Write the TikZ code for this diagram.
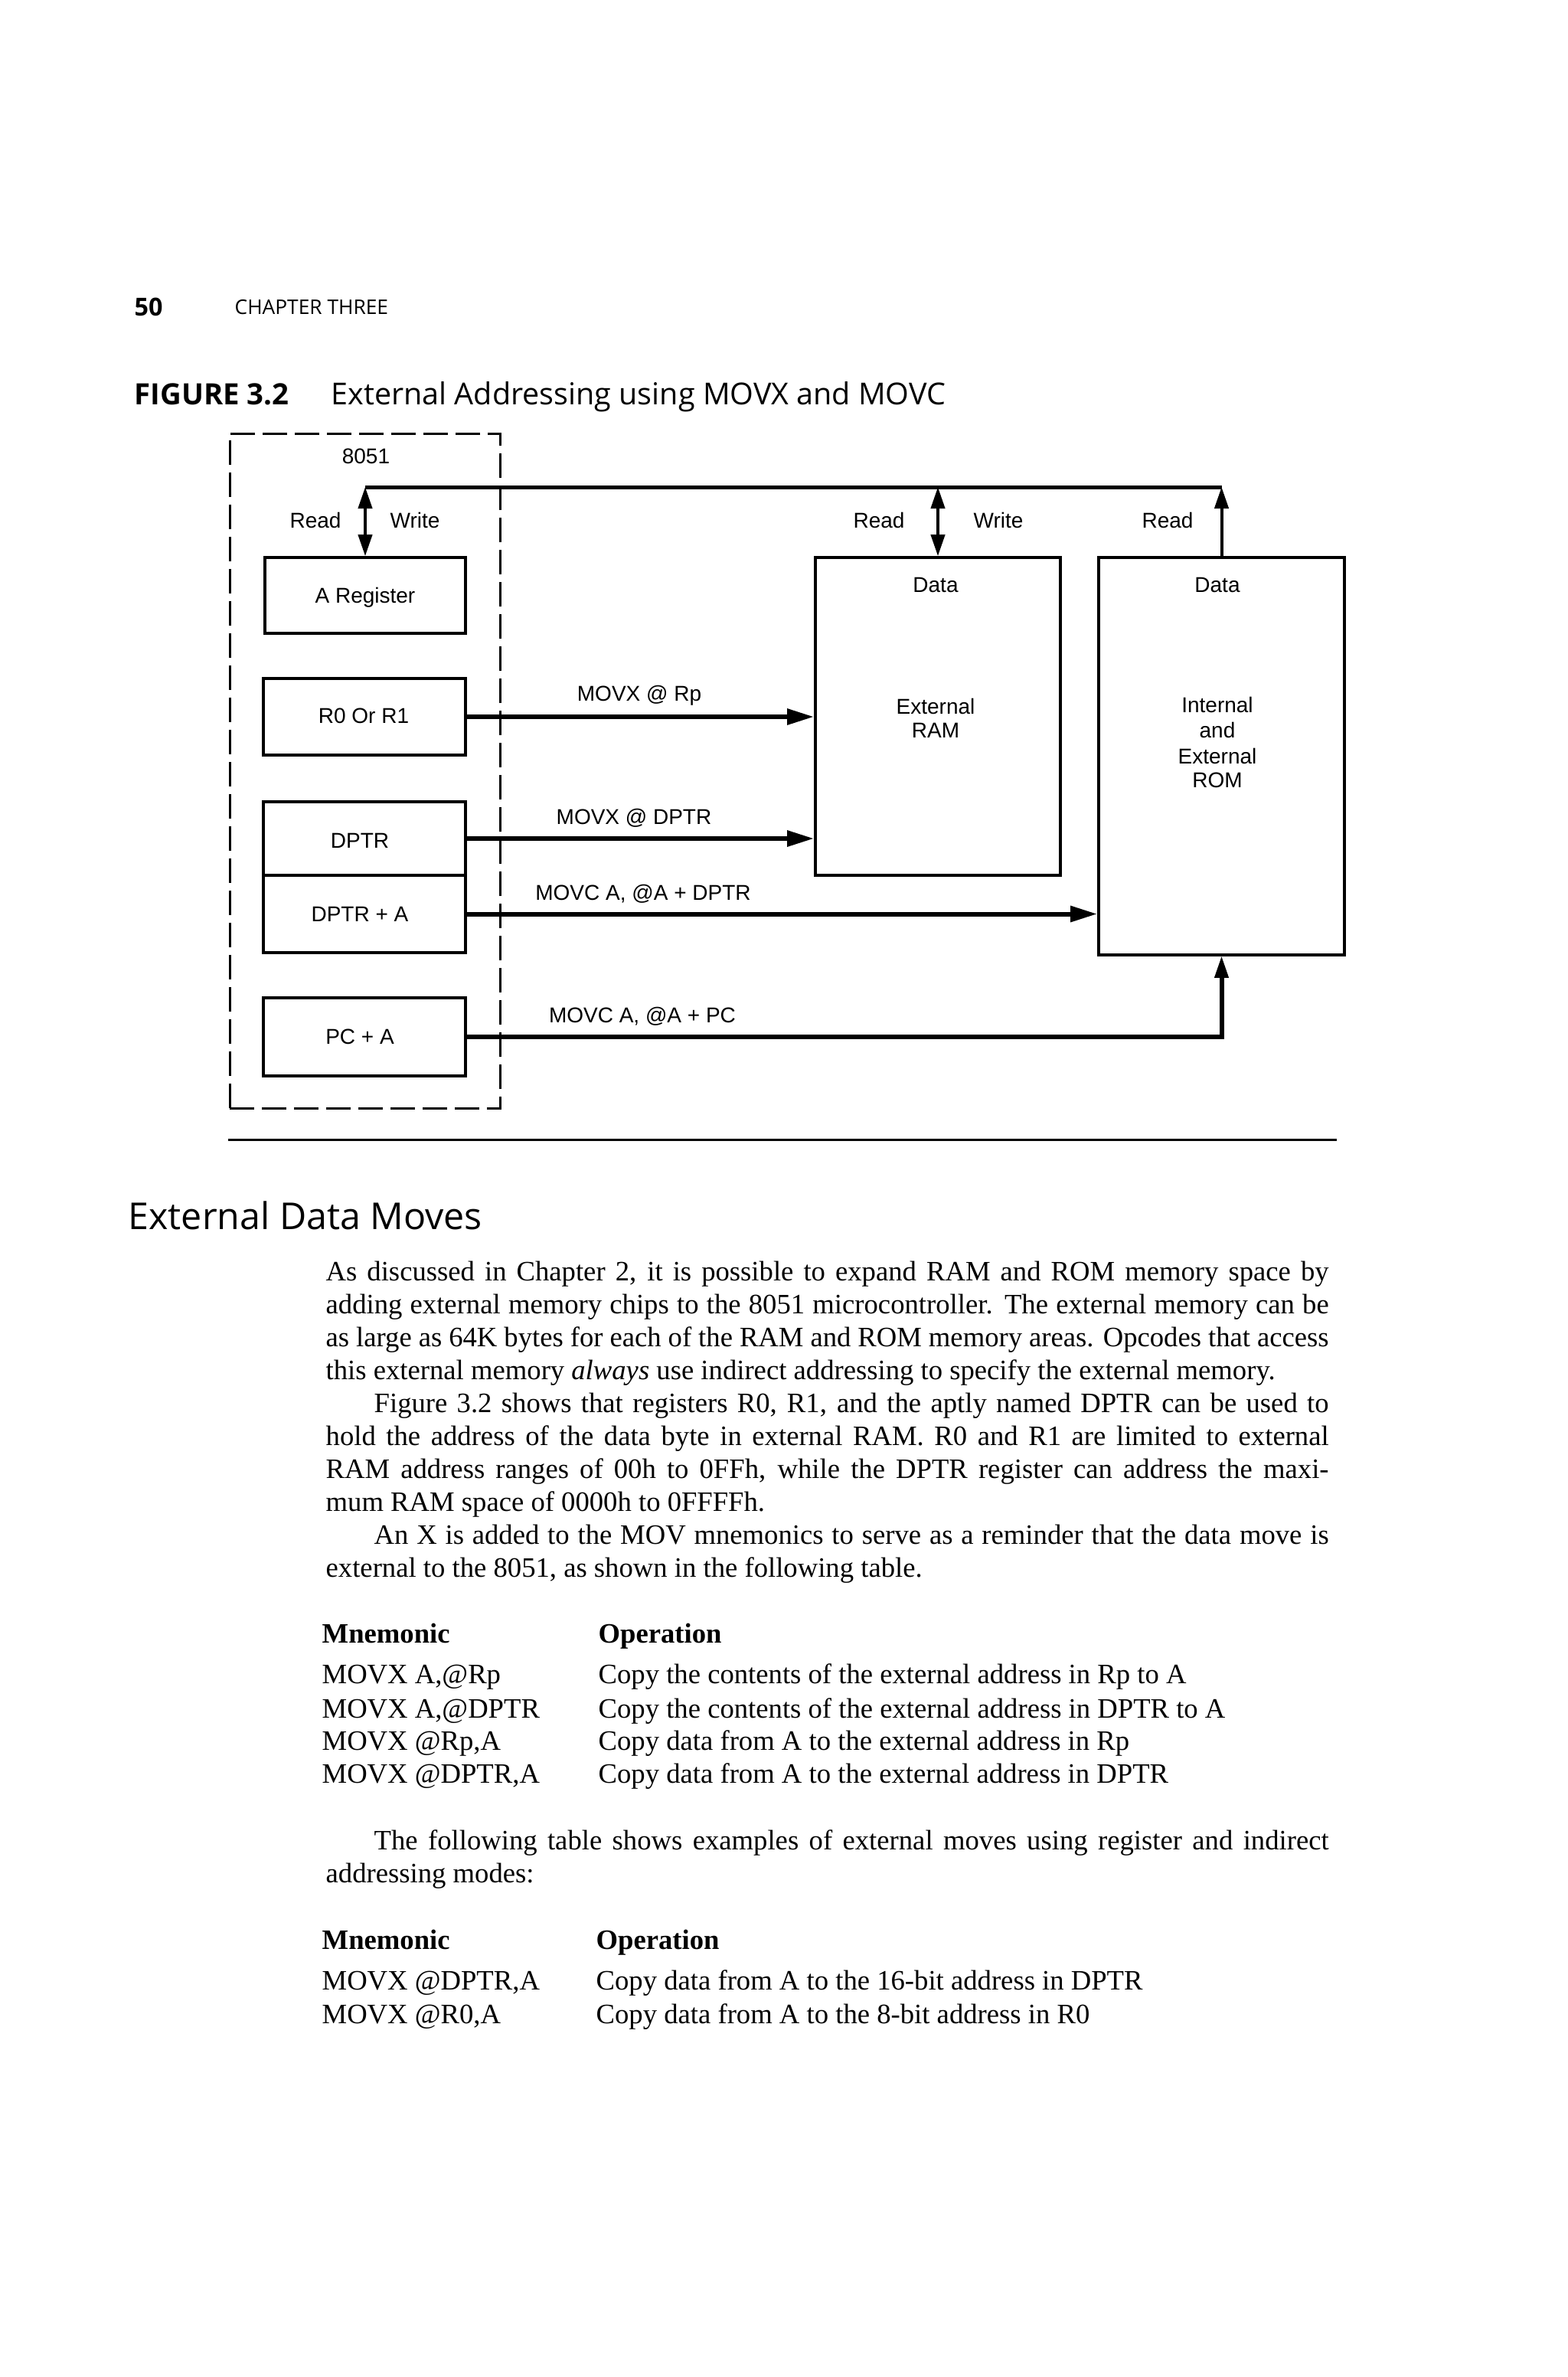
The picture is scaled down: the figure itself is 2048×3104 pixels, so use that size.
\documentclass[tikz,border=0pt]{standalone}
\usepackage{fontspec}
\setmainfont{Liberation Serif}
\newfontfamily\diafont{Liberation Sans}
\newfontfamily\headfont{Open Sans}
\usetikzlibrary{arrows.meta,fit}
\newcommand\bodysetup{\fontsize{11}{13}\selectfont\spaceskip=0.25em plus 0.6em minus 0.12em\relax}
\newcommand\jline[5]{\node[body] (#1) at (#2,#3) {\makebox[#4][s]{#5}};}
\newcommand\nline[4]{\node[body] (#1) at (#2,#3) {#4};}
\begin{document}
\begin{tikzpicture}[x=0.3pt,y=-0.3pt,
  regbox/.style={draw, line width=1.1pt, inner sep=0pt},
  chipbox/.style={draw, line width=0.9pt, inner sep=0pt, dash pattern=on 9.6pt off 3pt},
  dia/.style={font=\diafont\fontsize{8.4}{10}\selectfont, inner sep=0pt, anchor=base},
  conn/.style={line width=1.8pt, -{Triangle[length=10.5pt,width=6pt]}},
  rw/.style={line width=1.2pt, {Triangle[length=8.4pt,width=5.4pt]}-{Triangle[length=8.4pt,width=5.4pt]}},
  up/.style={line width=1.2pt, -{Triangle[length=8.4pt,width=5.4pt]}},
  bus/.style={line width=1.5pt},
  body/.style={font=\bodysetup, inner sep=0pt, anchor=base west},
  bodyb/.style={body, font=\bodysetup\bfseries},
  head/.style={inner sep=0pt, anchor=base west}
]
\fill[white] (0,0) rectangle (2048,3104);
\useasboundingbox (0,0) rectangle (2048,3104);

% page header
\node[head, font=\headfont\bfseries\fontsize{9.7}{11}\selectfont] (pnum) at (175,412) {50};
\node[head, font=\headfont\fontsize{7.9}{9}\selectfont] (chap) at (306,410) {CHAPTER THREE};
\node[head, font=\headfont\bfseries\fontsize{11.5}{13}\selectfont] (fignum) at (175,528) {FIGURE 3.2};
\node[head, font=\headfont\fontsize{11.85}{13}\selectfont] (figtitle) at (432,528) {External Addressing using MOVX and MOVC};

% diagram
\node[chipbox, fit={(300,566) (653,1447)}] (chip) {};
\node[dia] (t8051) at (478,605) {8051};

\node[regbox, fit={(346,728) (608,827)}] (areg) {};
\node[regbox, fit={(344,886) (608,986)}] (r0) {};
\node[regbox, fit={(344,1047) (608,1143)}] (dptr) {};
\node[regbox, fit={(344,1143) (608,1244)}] (dptra) {};
\node[regbox, fit={(344,1303) (608,1405)}] (pca) {};
\node[regbox, fit={(1065,728) (1385,1143)}] (ram) {};
\node[regbox, fit={(1435,728) (1756,1247)}] (rom) {};

\node[dia] (tareg) at (477,787) {A Register};
\node[dia] (tr0) at (475,944) {R0 Or R1};
\node[dia] (tdptr) at (470,1107) {DPTR};
\node[dia] (tdptra) at (470,1203) {DPTR + A};
\node[dia] (tpca) at (470,1363) {PC + A};

\node[dia] (tramdata) at (1222,773) {Data};
\node[dia] (tram1) at (1222,932) {External};
\node[dia] (tram2) at (1222,963) {RAM};
\node[dia] (tromdata) at (1590,773) {Data};
\node[dia] (trom1) at (1590,930) {Internal};
\node[dia] (trom2) at (1590,963) {and};
\node[dia] (trom3) at (1590,997) {External};
\node[dia] (trom4) at (1590,1028) {ROM};

\coordinate (busL) at (477,636);
\coordinate (busM) at (ram.north |- busL);
\coordinate (busR) at (rom.north |- busL);
\draw[rw] (areg.north) -- (busL);
\draw[rw] (ram.north) -- (busM);
\draw[up] (rom.north) -- (busR);
\draw[bus] (busL) -- (busR);

\node[dia] (rd1) at (412,689) {Read};
\node[dia] (wr1) at (542,689) {Write};
\node[dia] (rd2) at (1148,689) {Read};
\node[dia] (wr2) at (1304,689) {Write};
\node[dia] (rd3) at (1525,689) {Read};

\draw[conn] (r0.east) -- (r0.east -| ram.west);
\draw[conn] (dptr.east) -- (dptr.east -| ram.west);
\draw[conn] (dptra.east) -- (dptra.east -| rom.west);
\draw[line width=1.8pt] (pca.east) -| ([yshift=-7pt]rom.south);
\draw[up] ([yshift=-8pt]rom.south) -- (rom.south);

\node[dia] (m1) at (835,915) {MOVX @ Rp};
\node[dia] (m2) at (828,1076) {MOVX @ DPTR};
\node[dia] (m3) at (840,1175) {MOVC A, @A + DPTR};
\node[dia] (m4) at (839,1335) {MOVC A, @A + PC};

\draw[line width=0.9pt] (298,1488) -- (1746,1488);

% section
\node[head, font=\headfont\fontsize{14.5}{16}\selectfont] (sec) at (167,1605) {External Data Moves};

\jline{b1}{425}{1672}{393pt}{As discussed in Chapter 2, it is possible to expand RAM and ROM memory space by}
\jline{b2}{425}{1715}{393pt}{adding external memory chips to the 8051 microcontroller. The external memory can be}
\jline{b3}{425}{1758}{393pt}{as large as 64K bytes for each of the RAM and ROM memory areas. Opcodes that access}
\nline{b4}{425}{1801}{this external memory \textit{always} use indirect addressing to specify the external memory.}
\jline{b5}{488}{1844}{374.1pt}{Figure 3.2 shows that registers R0, R1, and the aptly named DPTR can be used to}
\jline{b6}{425}{1887}{393pt}{hold the address of the data byte in external RAM. R0 and R1 are limited to external}
\jline{b7}{425}{1930}{393pt}{RAM address ranges of 00h to 0FFh, while the DPTR register can address the maxi-}
\nline{b8}{425}{1973}{mum RAM space of 0000h to 0FFFFh.}
\jline{b9}{488}{2016}{374.1pt}{An X is added to the MOV mnemonics to serve as a reminder that the data move is}
\nline{b10}{425}{2059}{external to the 8051, as shown in the following table.}

\node[bodyb] (h1a) at (420,2145) {Mnemonic};
\node[bodyb] (h1b) at (781,2145) {Operation};
\nline{r1a}{420}{2198}{MOVX A,@Rp}
\nline{r1b}{781}{2198}{Copy the contents of the external address in Rp to A}
\nline{r2a}{420}{2243}{MOVX A,@DPTR}
\nline{r2b}{781}{2243}{Copy the contents of the external address in DPTR to A}
\nline{r3a}{420}{2285}{MOVX @Rp,A}
\nline{r3b}{781}{2285}{Copy data from A to the external address in Rp}
\nline{r4a}{420}{2328}{MOVX @DPTR,A}
\nline{r4b}{781}{2328}{Copy data from A to the external address in DPTR}

\jline{c1}{488}{2415}{374.1pt}{The following table shows examples of external moves using register and indirect}
\nline{c2}{425}{2458}{addressing modes:}

\node[bodyb] (h2a) at (420,2545) {Mnemonic};
\node[bodyb] (h2b) at (778,2545) {Operation};
\nline{s1a}{420}{2598}{MOVX @DPTR,A}
\nline{s1b}{778}{2598}{Copy data from A to the 16-bit address in DPTR}
\nline{s2a}{420}{2642}{MOVX @R0,A}
\nline{s2b}{778}{2642}{Copy data from A to the 8-bit address in R0}
\end{tikzpicture}
\end{document}
